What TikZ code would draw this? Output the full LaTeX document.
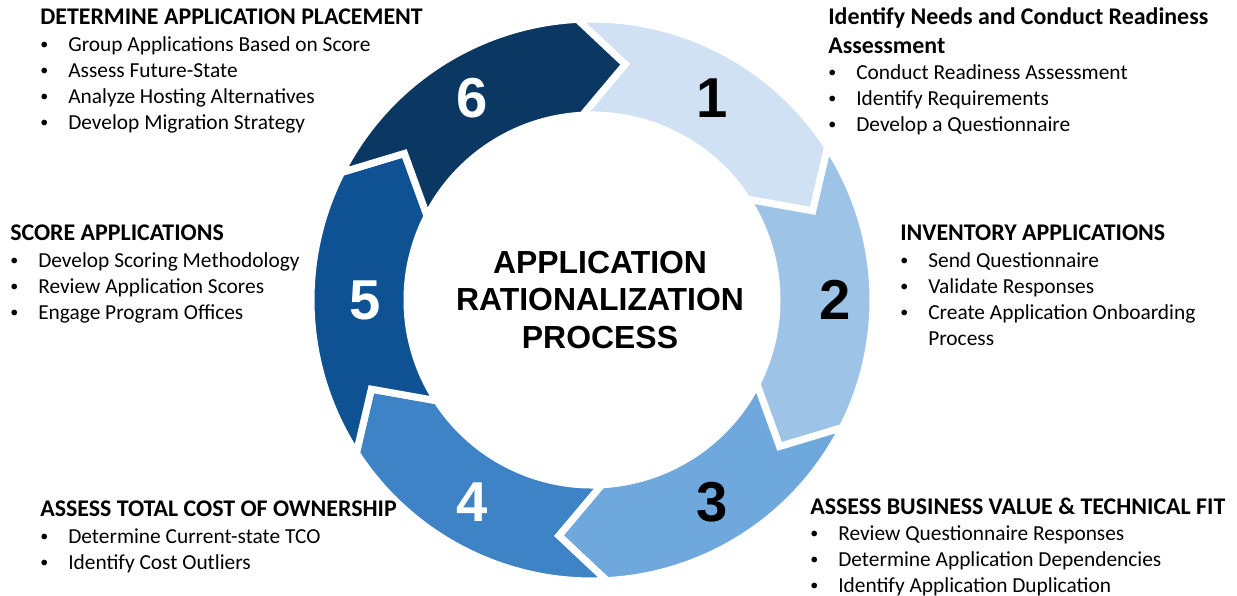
\documentclass[tikz,border=0pt]{standalone}
\usepackage{fontspec}
\setmainfont{Carlito}
\newfontfamily\arialfont{Liberation Sans}
\usetikzlibrary{calc}
\definecolor{StepOne}{HTML}{CFE1F3}
\definecolor{StepTwo}{HTML}{9DC3E6}
\definecolor{StepThree}{HTML}{6FA8DC}
\definecolor{StepFour}{HTML}{3D83C5}
\definecolor{StepFive}{HTML}{0E5294}
\definecolor{StepSix}{HTML}{0A3862}
\newcommand{\stephead}[1]{\multicolumn{2}{@{}l@{}}{\fontsize{17}{18.5}\selectfont\bfseries #1}}
\newcommand{\dotitem}{\raisebox{0.15ex}{\scalebox{0.75}{\textbullet}}}

\tikzset{
  steptext/.style={anchor=base west, inner sep=0pt,
    font=\fontsize{15.2}{18.5}\selectfont},
  stepnum/.style={inner sep=0pt, font=\arialfont\bfseries\fontsize{40}{40}\selectfont},
  ringtitle/.style={align=center, inner sep=0pt,
    font=\arialfont\bfseries\fontsize{22.7}{27}\selectfont}
}

\begin{document}
\begin{tikzpicture}[x=0.025cm,y=0.025cm]
    \useasboundingbox (0,0) rectangle (1237,-596);
    \coordinate (ctr) at (592,-300);

    % ring of six chevrons
    \begin{scope}[shift={(ctr)}]
    \foreach \col/\a in {StepOne/93,StepTwo/33,StepThree/333,StepFour/273,StepFive/213,StepSix/153} {
      \fill[\col, draw=white, line width=5pt]
        (\a:281) arc[start angle=\a, end angle=\a-60, radius=281]
        -- (\a-71:238) -- (\a-60:185)
        arc[start angle=\a-60, end angle=\a, radius=185]
        -- (\a-11:238) -- cycle;
    }
    \end{scope}

    \node[ringtitle] (title) at (600,-300) {APPLICATION\\RATIONALIZATION\\PROCESS};

    \node[stepnum] (nsix)   at (472,-98)  {\color{white}6};
    \node[stepnum] (none)   at (712,-98)  {1};
    \node[stepnum] (ntwo)   at (835,-300) {2};
    \node[stepnum] (nthree) at (712,-502) {3};
    \node[stepnum] (nfour)  at (472,-502) {\color{white}4};
    \node[stepnum] (nfive)  at (365,-300) {\color{white}5};

    % text blocks
    \node[steptext] (tsix) at (40,-25) {\begin{tabular}[t]{@{}p{0.7cm}@{}l@{}}
      \stephead{DETERMINE APPLICATION PLACEMENT}\\
      \dotitem & Group Applications Based on Score\\
      \dotitem & Assess Future-State\\
      \dotitem & Analyze Hosting Alternatives\\
      \dotitem & Develop Migration Strategy
    \end{tabular}};
    \node[steptext] (tone) at (828,-25) {\begin{tabular}[t]{@{}p{0.7cm}@{}l@{}}
      \stephead{Identify Needs and Conduct Readiness}\\[1.5pt]
      \stephead{Assessment}\\
      \dotitem & Conduct Readiness Assessment\\
      \dotitem & Identify Requirements\\
      \dotitem & Develop a Questionnaire
    \end{tabular}};
    \node[steptext] (ttwo) at (900,-241) {\begin{tabular}[t]{@{}p{0.7cm}@{}l@{}}
      \stephead{INVENTORY APPLICATIONS}\\
      \dotitem & Send Questionnaire\\
      \dotitem & Validate Responses\\
      \dotitem & Create Application Onboarding\\
               & Process
    \end{tabular}};
    \node[steptext] (tthree) at (810,-514) {\begin{tabular}[t]{@{}p{0.7cm}@{}l@{}}
      \stephead{ASSESS BUSINESS VALUE \& TECHNICAL FIT}\\
      \dotitem & Review Questionnaire Responses\\
      \dotitem & Determine Application Dependencies\\
      \dotitem & Identify Application Duplication
    \end{tabular}};
    \node[steptext] (tfour) at (40,-517) {\begin{tabular}[t]{@{}p{0.7cm}@{}l@{}}
      \stephead{ASSESS TOTAL COST OF OWNERSHIP}\\
      \dotitem & Determine Current-state TCO\\
      \dotitem & Identify Cost Outliers
    \end{tabular}};
    \node[steptext] (tfive) at (10,-241) {\begin{tabular}[t]{@{}p{0.7cm}@{}l@{}}
      \stephead{SCORE APPLICATIONS}\\
      \dotitem & Develop Scoring Methodology\\
      \dotitem & Review Application Scores\\
      \dotitem & Engage Program Offices
    \end{tabular}};
\end{tikzpicture}
\end{document}
